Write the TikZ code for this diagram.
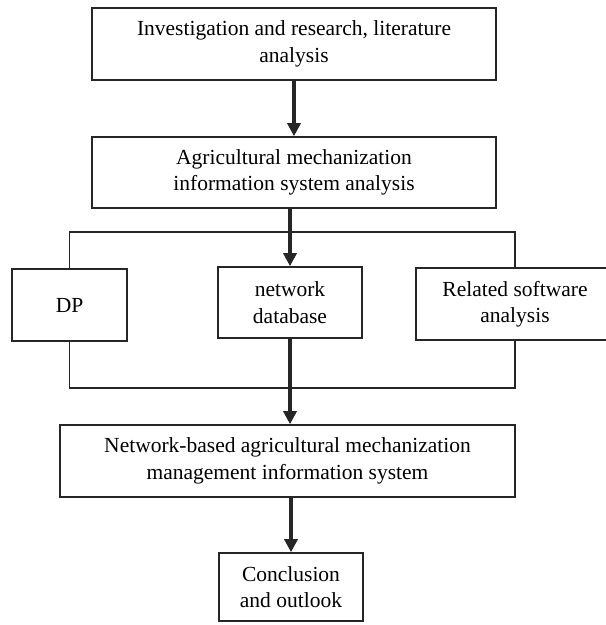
\documentclass[tikz,border=0pt]{standalone}
\usepackage{fontspec}
\setmainfont{Liberation Serif}
\usepackage{tikz}
\usetikzlibrary{arrows.meta}
\usetikzlibrary{positioning,calc}

\tikzset{
  stagebox/.style={draw=black!85, line width=1.6pt, align=center, inner sep=0pt,
    font=\fontsize{21.5}{26.5}\selectfont},
  link/.style={line width=1.6pt, draw=black!85},
  flowarrow/.style={line width=3.6pt, draw=black!85,
    -{Triangle[length=13pt,width=13pt]}}
}

\begin{document}
\begin{tikzpicture}[x=1pt, y=-1pt]
			\useasboundingbox (0,0) rectangle (606,625);
			% stages
			\node[stagebox, minimum width=404pt, minimum height=72pt] (survey) at (294,44) {Investigation and research, literature\\analysis};
			\node[stagebox, minimum width=404pt, minimum height=71pt] (analysis) at (294,172.5) {Agricultural mechanization\\information system analysis};
			\node[stagebox, minimum width=115pt, minimum height=72pt] (dp) at (69.5,305) {DP};
			\node[stagebox, minimum width=144pt, minimum height=71pt] (netdb) at (290,302.5) {network\\database};
			\node[stagebox, minimum width=198pt, minimum height=72pt] (software) at (515,304) {Related software\\analysis};
			\node[stagebox, minimum width=455pt, minimum height=72pt] (system) at (287.5,461) {Network-based agricultural mechanization\\management information system};
			\node[stagebox, minimum width=144pt, minimum height=68pt] (outlook) at (291,587) {Conclusion\\and outlook};
			\coordinate (topbar) at (0,232);
			\coordinate (botbar) at (0,388);
			% brackets
			\draw[link] (dp.north) -- (dp.north |- topbar) -| (software.north);
			\draw[link] (dp.south) -- (dp.south |- botbar) -| (software.south);
			% arrows
			\draw[flowarrow] (survey.south) -- (analysis.north);
			\draw[flowarrow] (netdb.north |- analysis.south) -- (netdb.north);
			\draw[flowarrow] (netdb.south) -- (netdb.south |- system.north);
			\draw[flowarrow] (outlook.north |- system.south) -- (outlook.north);
		\end{tikzpicture}
\end{document}
